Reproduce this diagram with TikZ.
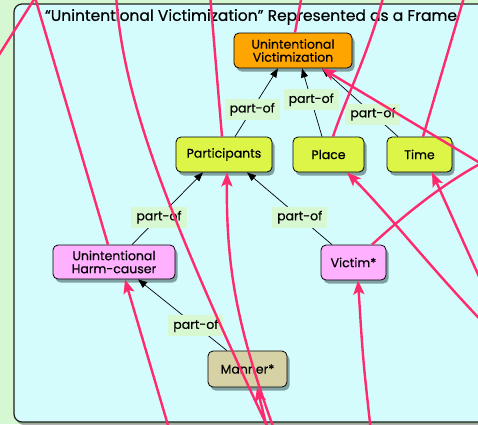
\documentclass[tikz,border=0pt]{standalone}
\usepackage{fontspec}
\setmainfont{Poppins}[FakeBold=0.5]
\usetikzlibrary{arrows.meta,shadows}

\definecolor{outerbg}{HTML}{D5F7D2}
\definecolor{framebg}{HTML}{D4FCFC}
\definecolor{framecol}{HTML}{1E1E1E}
\definecolor{linkpink}{HTML}{FF2A6E}
\definecolor{topfill}{HTML}{FFA500}
\definecolor{rolefill}{HTML}{DCF546}
\definecolor{agentfill}{HTML}{FFB0FF}
\definecolor{mannerfill}{HTML}{D6D2A6}
\definecolor{tagfill}{HTML}{D8F8D2}

\tikzset{
  concept/.style={draw=black, line width=0.8pt, rounded corners=5pt,
    minimum height=35pt, inner sep=1pt, align=center, font=\fontsize{12.5}{13}\selectfont,
    drop shadow={shadow xshift=2.5pt, shadow yshift=-3.5pt, fill=black!80!teal, opacity=0.4}},
  partof/.style={-{Triangle[length=9pt,width=7pt]}, line width=0.7pt, black},
  tag/.style={fill=tagfill, inner xsep=5pt, inner ysep=4pt, font=\fontsize{12.5}{13}\selectfont},
  link/.style={linkpink, line width=2.4pt},
  linkto/.style={link, -{Stealth[length=14pt,width=11pt,inset=3pt]}}
}

\begin{document}
\begin{tikzpicture}[x=1pt, y=-1pt]
\useasboundingbox (0,0) rectangle (478,424);
\clip (0,0) rectangle (478,424);
\fill[outerbg] (0,0) rectangle (478,424);

% frame panel
\path[draw=framecol, line width=1.2pt, fill=framebg, rounded corners=8pt,
  drop shadow={shadow xshift=2pt, shadow yshift=-3pt, fill=black, opacity=0.3}]
  (14,4) rectangle (500,422);

\node[font=\fontsize{15.5}{17}\selectfont] (title) at (251,17)
  {“Unintentional Victimization” Represented as a Frame};

% concept boxes
\node[concept, fill=topfill, minimum width=118pt] (uv) at (293,50.5) {Unintentional\\Victimization};
\node[concept, fill=rolefill, minimum width=96pt] (pa) at (224,154.5) {Participants};
\node[concept, fill=rolefill, minimum width=71pt] (pl) at (328.5,154.5) {Place};
\node[concept, fill=rolefill, minimum width=65pt] (ti) at (419.5,154.5) {Time};
\node[concept, fill=agentfill, minimum width=122pt, minimum height=34pt] (hc) at (114,262) {Unintentional\\Harm-causer};
\node[concept, fill=agentfill, minimum width=65pt] (vi) at (353.5,262.5) {Victim*};
\node[concept, fill=mannerfill, minimum width=79pt, minimum height=36pt] (ma) at (247.5,369) {Manner*};

% part-of links
\draw[partof] ([xshift=11]pa.north) -- node[tag, pos=0.4] {part-of} ([xshift=-15]uv.south);
\draw[partof] ([xshift=-6.5]pl.north) -- node[tag, pos=0.54] {part-of} ([xshift=9]uv.south);
\draw[partof] ([xshift=-21.5]ti.north) -- node[tag, pos=0.33] {part-of} ([xshift=29]uv.south);
\draw[partof] ([xshift=18]hc.north) -- node[tag, pos=0.38] {part-of} ([xshift=-21]pa.south);
\draw[partof] ([xshift=-21.5]vi.north) -- node[tag, pos=0.38] {part-of} ([xshift=23]pa.south);
\draw[partof] ([xshift=-20.5]ma.north) -- node[tag, pos=0.35] {part-of} ([xshift=24]hc.south);

% outside ends of the cross links
\coordinate (c1a) at (40,-10);
\coordinate (c1b) at (-8,66);
\coordinate (c2) at (34,-6);
\coordinate (c3a) at (116,-6);
\coordinate (c3b) at (270,432);
\coordinate (c4) at (210,-6);
\coordinate (c5) at (302,-6);
\coordinate (c6) at (384,-6);
\coordinate (c7) at (465,-6);
\coordinate (c8) at (505,178);
\coordinate (c9) at (497,155);
\coordinate (c10) at (505,345);
\coordinate (c11) at (486,292);
\coordinate (c12) at (275,432);
\coordinate (c13) at (170,432);
\coordinate (c14) at (371,432);
\coordinate (c15) at (268,432);

% cross links
\draw[link] (c1a) -- (c1b);
\draw[link] (c2) -- ([xshift=-6]hc.north);
\draw[link] (c3a) .. controls (122,90) and (160,200) .. (c3b);
\draw[link] (c4) -- ([xshift=-2]pa.north);
\draw[link] (c5) -- ([xshift=2]uv.north);
\draw[link] (c6) .. controls (370,50) and (345,100) .. ([xshift=4.5]pl.north);
\draw[link] (c7) -- ([xshift=3.5]ti.north);
\draw[linkto] (c8) -- ([xshift=29]uv.south);
\draw[link] ([xshift=18.5]vi.north) .. controls (410,210) and (450,178) .. (c9);
\draw[linkto] (c10) .. controls (440,280) and (390,215) .. ([xshift=18.5]pl.south);
\draw[linkto] (c11) -- ([xshift=12.5]ti.south);
\draw[linkto] (c12) .. controls (238,330) and (226,270) .. ([xshift=3]pa.south);
\draw[linkto] (c13) -- ([xshift=11]hc.south);
\draw[linkto] (c14) .. controls (363,360) .. ([xshift=4.5]vi.south);
\draw[linkto] (c15) -- ([xshift=9.5]ma.south);
\end{tikzpicture}
\end{document}
